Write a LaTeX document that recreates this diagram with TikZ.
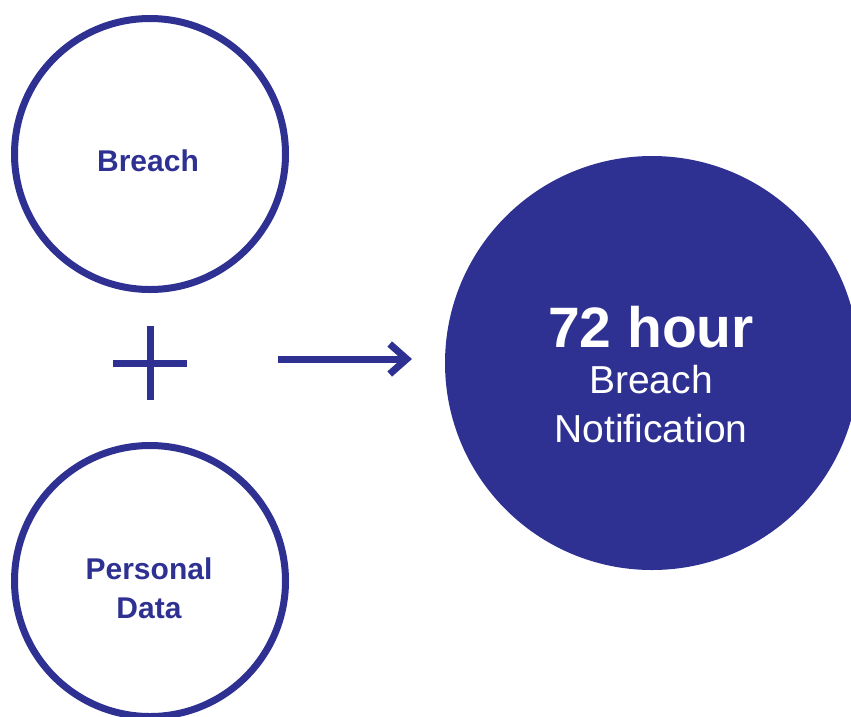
\documentclass[tikz,border=0pt]{standalone}
\usepackage{fontspec}
\setmainfont{Liberation Sans}
\usetikzlibrary{arrows.meta,positioning,calc}
\definecolor{gdprblue}{RGB}{46,49,146}

\begin{document}
\begin{tikzpicture}[
	x=1pt,
	y=-1pt,
	ring/.style={
		circle,
		draw=gdprblue,
		line width=7pt,
		minimum size=271pt,
		inner sep=0pt
	},
	ringtext/.style={
		anchor=base,
		inner sep=0pt,
		text=gdprblue,
		font=\fontsize{30}{36}\selectfont\bfseries
	},
	disc/.style={
		circle,
		fill=gdprblue,
		minimum size=414pt,
		inner sep=0pt
	},
	disctext/.style={
		anchor=base,
		inner sep=0pt,
		text=white,
		font=\fontsize{#1}{#1}\selectfont
	},
	discbold/.style={
		disctext,
		font=\fontsize{#1}{#1}\selectfont\bfseries
	},
	stroke/.style={
		draw=gdprblue,
		line width=7pt
	},
	flow/.style={
		stroke,
		-{Straight Barb[length=17pt,width=30pt,sharp]}
	}
	]
	
	\useasboundingbox (0,0) rectangle (851,716);
	
	% Breach circle
	\node[ring] (breach) at (150,154) {};
	\node[ringtext] (breach-txt) at ($(breach.center)+(-2,17)$) {Breach};
	
	% Personal Data circle
	\node[ring] (data) at (150,581) {};
	\node[ringtext] (data-txt1) at ($(data.center)+(-1,-2)$) {Personal};
	\node[ringtext] (data-txt2) at ($(data-txt1.base)+(0,39)$) {Data};
	
	% Plus sign
	\coordinate (plus) at (150,363);
	\draw[stroke] ($(plus)+(-37,0)$) -- ($(plus)+(37,0)$);
	\draw[stroke] ($(plus)+(0,-37)$) -- ($(plus)+(0,37)$);
	
	% Notification disc
	\node[disc] (notif) at (652,363) {};
	\node[discbold=57] (hours) at ($(notif.center)+(-1,-16)$) {72 hour};
	\node[disctext=39] (notif-txt1) at ($(hours.base)+(0,46)$) {Breach};
	\node[disctext=39] (notif-txt2) at ($(notif-txt1.base)+(0,49)$) {Notification};
	
	% Arrow
	\coordinate (arrow-start) at (278,359);
	\coordinate (arrow-end) at (412,359);
	\draw[flow] (arrow-start) -- (arrow-end);
	
\end{tikzpicture}
\end{document}
